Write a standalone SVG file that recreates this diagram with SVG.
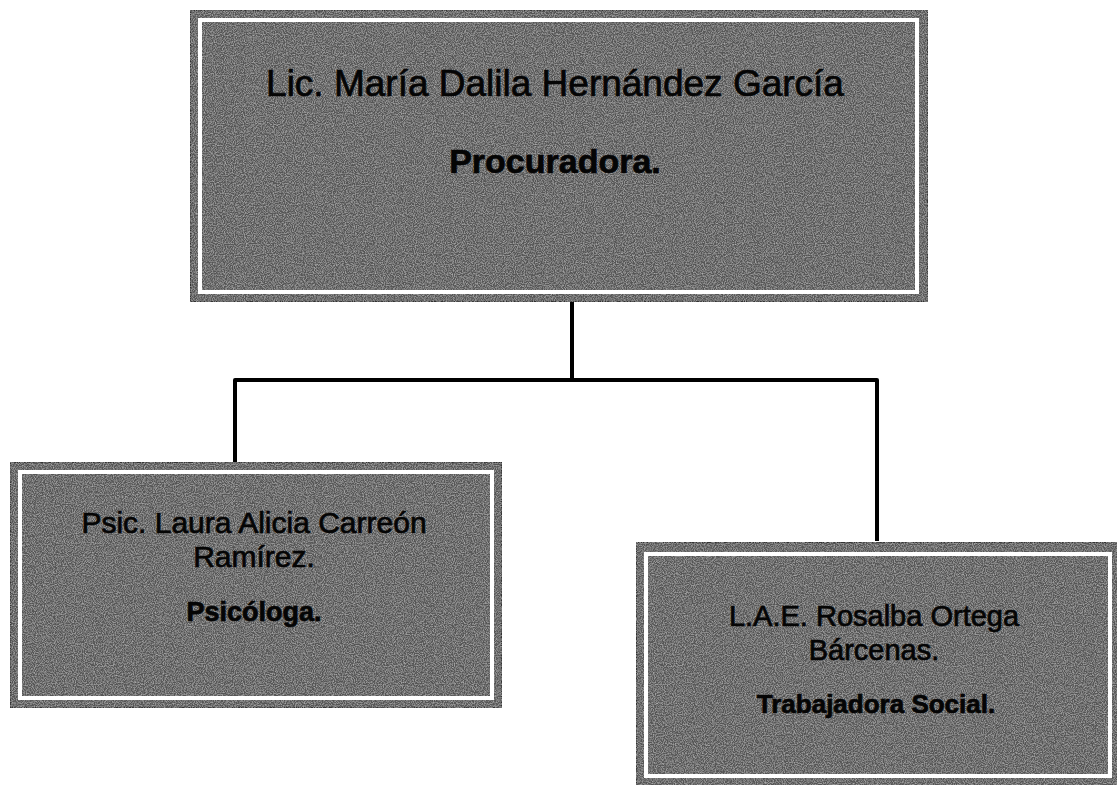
<svg xmlns="http://www.w3.org/2000/svg" width="1117" height="785" viewBox="0 0 1117 785">
<defs>
<filter id="grain" x="0" y="0" width="100%" height="100%">
<feTurbulence type="fractalNoise" baseFrequency="0.9" numOctaves="2" seed="3" result="n"/>
<feColorMatrix in="n" type="matrix" values="0 0 0 0 0.62  0 0 0 0 0.62  0 0 0 0 0.62  0 0 0 1.2 -0.45" result="g"/>
<feComposite in="g" in2="SourceGraphic" operator="in" result="gi"/>
<feMerge><feMergeNode in="SourceGraphic"/><feMergeNode in="gi"/></feMerge>
</filter>
</defs>
<style>
.outer{fill:#555555;stroke:#333;stroke-width:2;filter:url(#grain)}
.inner{fill:none;stroke:#ffffff;stroke-width:4}
.t{font-family:"Liberation Sans",Arial,sans-serif;fill:#050505;stroke:#050505;stroke-width:0.7;text-anchor:middle}
.b{font-weight:bold}
.conn{fill:none;stroke:#000;stroke-width:4;stroke-linejoin:round}
</style>
<rect width="1117" height="785" fill="#ffffff"/>
<g id="connectors">
<path class="conn" d="M572 302 V380"/>
<path class="conn" d="M235 462 V380 H877 V541"/>
</g>
<g id="node-procuradora">
<rect class="outer" x="190" y="10" width="738" height="292"/>
<rect class="inner" x="200" y="20" width="717" height="272"/>
<text class="t" x="555" y="96" font-size="37">Lic. María Dalila Hernández García</text>
<text class="t b" x="555" y="173" font-size="34">Procuradora.</text>
</g>
<g id="node-psicologa">
<rect class="outer" x="10" y="462" width="492" height="246"/>
<rect class="inner" x="20" y="472" width="472" height="226"/>
<text class="t" x="254" y="533" font-size="30">Psic. Laura Alicia Carreón</text>
<text class="t" x="254" y="567" font-size="30">Ramírez.</text>
<text class="t b" x="254" y="621" font-size="27">Psicóloga.</text>
</g>
<g id="node-trabajadora">
<rect class="outer" x="636" y="542" width="482" height="244"/>
<rect class="inner" x="646" y="554" width="464" height="222"/>
<text class="t" x="874" y="626" font-size="29">L.A.E. Rosalba Ortega</text>
<text class="t" x="874" y="660" font-size="29">Bárcenas.</text>
<text class="t b" x="876" y="713" font-size="26">Trabajadora Social.</text>
</g>
</svg>
